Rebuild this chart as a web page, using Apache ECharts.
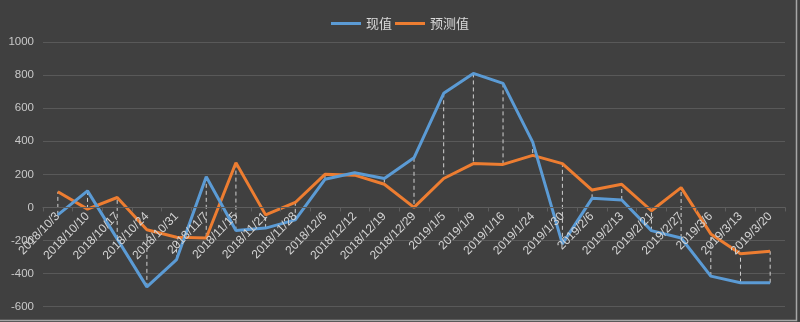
<!DOCTYPE html>
<html>
<head>
<meta charset="utf-8">
<script src="https://cdn.jsdelivr.net/npm/echarts@6/dist/echarts.min.js"></script>
<style>
  html, body { margin: 0; padding: 0; background: #404040; }
  #chart { width: 800px; height: 322px; }
</style>
</head>
<body>
<div id="chart"></div>
<script>
// Weekly dates on the category axis
const categories = [
  '2018/10/3', '2018/10/10', '2018/10/17', '2018/10/24', '2018/10/31',
  '2018/11/7', '2018/11/15', '2018/11/21', '2018/11/28', '2018/12/6',
  '2018/12/12', '2018/12/19', '2018/12/29', '2019/1/5', '2019/1/9',
  '2019/1/16', '2019/1/24', '2019/1/30', '2019/2/6', '2019/2/13',
  '2019/2/21', '2019/2/27', '2019/3/6', '2019/3/13', '2019/3/20'
];

// 现值 (actual)
const actualValues = [
  -45, 100, -190, -480, -315,
  185, -140, -125, -75, 170,
  210, 175, 300, 690, 810,
  750, 395, -220, 55, 45,
  -140, -185, -415, -455, -455
];

// 预测值 (forecast)
const forecastValues = [
  95, -10, 60, -135, -180,
  -185, 270, -45, 30, 200,
  195, 140, 0, 175, 265,
  260, 315, 265, 105, 140,
  -20, 120, -160, -280, -265
];

const seriesNames = ['现值', '预测值'];
const yTicks = { min: -600, max: 1000, interval: 200 };

// Pairs used for the dashed connector between the two lines at each date
const connectorData = categories.map((c, i) => [i, actualValues[i], forecastValues[i]]);

const chart = echarts.init(document.getElementById('chart'), null, { renderer: 'canvas' });

chart.setOption({
  backgroundColor: '#404040',
  animation: false,
  textStyle: { fontFamily: 'Liberation Sans, Arial, sans-serif' },
  legend: {
    data: seriesNames,
    top: 12,
    left: 'center',
    icon: 'rect',
    itemWidth: 30,
    itemHeight: 3,
    itemGap: 3,
    textStyle: { color: '#d9d9d9', fontSize: 13, fontFamily: 'Noto Sans CJK SC, sans-serif' }
  },
  grid: { left: 43, right: 15, top: 42, bottom: 15.3, containLabel: false, outerBoundsMode: 'none' },
  xAxis: {
    type: 'category',
    data: categories,
    boundaryGap: true,
    position: 'bottom',
    offset: 0,
    z: 5,
    axisLine: { onZero: false, lineStyle: { color: '#5e5e5e', width: 1 } },
    axisTick: { show: true, length: 4, lineStyle: { color: '#5e5e5e' } },
    axisLabel: {
      interval: 0,
      rotate: 46,
      margin: 7,
      color: '#d4d4d4',
      fontSize: 12
    },
    splitLine: { show: false }
  },
  yAxis: {
    type: 'value',
    min: yTicks.min,
    max: yTicks.max,
    interval: yTicks.interval,
    axisLine: { show: false },
    axisTick: { show: false },
    axisLabel: { color: '#c8c8c8', fontSize: 11.5, margin: 9, formatter: (v) => String(v) },
    splitLine: { lineStyle: { color: '#595959', width: 1 } }
  },
  series: [
    {
      type: 'custom',
      name: 'connector',
      z: 1,
      silent: true,
      data: connectorData,
      renderItem: function (params, api) {
        const p1 = api.coord([api.value(0), api.value(1)]);
        const p2 = api.coord([api.value(0), api.value(2)]);
        return {
          type: 'line',
          shape: { x1: p1[0], y1: p1[1], x2: p2[0], y2: p2[1] },
          style: { stroke: '#d0d0d0', lineWidth: 1, lineDash: [4, 3] }
        };
      }
    },
    {
      name: seriesNames[0],
      type: 'line',
      z: 3,
      data: actualValues,
      showSymbol: false,
      symbol: 'none',
      lineStyle: { color: '#5b9bd5', width: 3 },
      itemStyle: { color: '#5b9bd5' }
    },
    {
      name: seriesNames[1],
      type: 'line',
      z: 2,
      data: forecastValues,
      showSymbol: false,
      symbol: 'none',
      lineStyle: { color: '#ed7d31', width: 3 },
      itemStyle: { color: '#ed7d31' }
    }
  ],
  graphic: [
    {
      type: 'polyline',
      silent: true,
      shape: { points: [[796.5, 0], [796.5, 320.5], [0, 320.5]] },
      style: { stroke: '#a6a6a6', lineWidth: 1.5, fill: null }
    }
  ]
});

// Lift the category axis (line, ticks, labels) up to the zero value line
const zeroY = chart.convertToPixel({ yAxisIndex: 0 }, 0);
const floorY = chart.convertToPixel({ yAxisIndex: 0 }, yTicks.min);
chart.setOption({ xAxis: { offset: -(floorY - zeroY) } });
</script>
</body>
</html>
